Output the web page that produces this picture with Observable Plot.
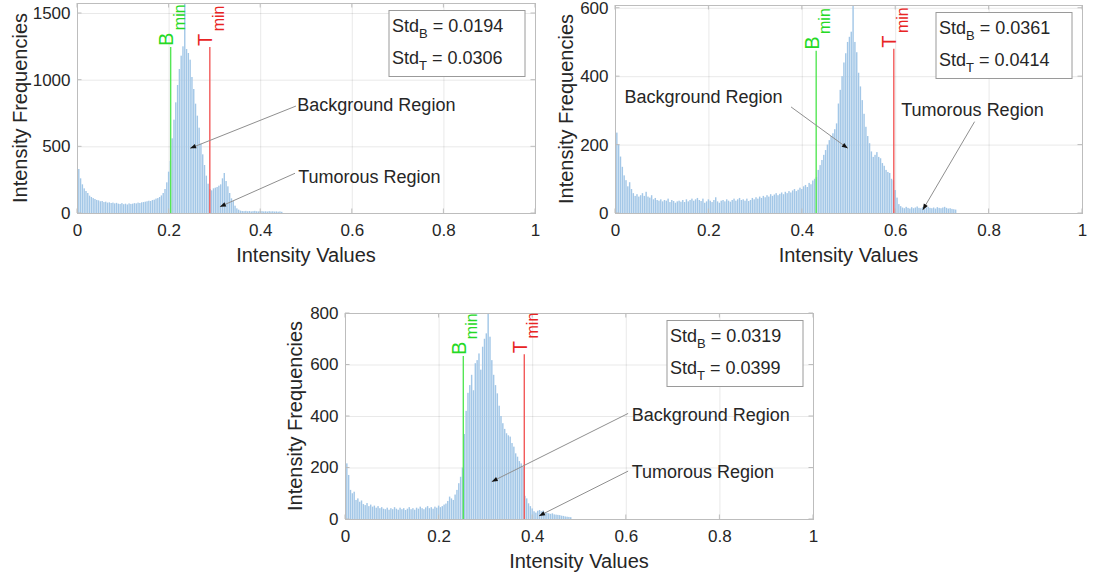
<!DOCTYPE html>
<html><head><meta charset="utf-8">
<script src="https://cdn.jsdelivr.net/npm/d3@7"></script>
<script src="https://cdn.jsdelivr.net/npm/@observablehq/plot@0.6"></script>
<style>
body{margin:0;background:#fff;}
#chart{position:relative;width:1093px;height:581px;overflow:hidden;background:#fff;}
#chart svg{position:absolute;}
</style></head><body><div id="chart"></div>
<script>
// ---------- data ----------
const binCount = 256; // imhist bins, centres at i/255
const xTicks = [0, 0.2, 0.4, 0.6, 0.8, 1];
const xTickLabels = ["0", "0.2", "0.4", "0.6", "0.8", "1"];
const xAxisTitle = "Intensity Values";
const yAxisTitle = "Intensity Frequencies";
const regionNames = ["Background Region", "Tumorous Region"];
const thresholdLetters = ["B", "T"];
const thresholdSub = "min";
const stdNames = ["B", "T"];

// panel 1 (top-left)
const counts1 = [390,330,260,215,185,165,150,130,120,112,
  105,98,95,88,90,82,85,78,80,75,
  78,72,76,70,68,74,66,70,64,72,
  68,70,74,72,78,75,80,82,85,88,
  92,90,97,100,108,112,120,132,150,180,
  230,310,390,560,700,830,960,1080,1180,1250,
  1600,1230,1200,1150,1020,930,820,730,640,520,
  440,360,280,220,180,170,185,190,195,205,
  215,260,300,240,200,150,110,90,55,35,25,
  18,15,14,16,13,15,12,14,16,13,12,15,14,12,13,11,14,12,13,11,12,10,12,9];
const yTicks1 = [0, 500, 1000, 1500];
const yMax1 = 1575;
const thresholds1 = [0.2045, 0.290];
const thresholdTops1 = [1245, 1245];
const std1 = ["0.0194", "0.0306"];

// panel 2 (top-right)
const counts2 = [367,235,200,165,135,110,96,78,90,70,
  58,50,55,48,52,58,50,62,48,45,
  52,40,44,38,36,40,34,38,36,42,
  32,38,35,30,34,36,33,38,32,40,
  34,38,42,36,40,44,38,35,42,30,
  34,40,36,32,38,46,34,30,36,38,
  34,40,36,33,38,42,36,40,44,38,
  40,36,42,35,38,44,40,46,42,48,
  44,50,46,52,48,55,50,54,58,52,
  56,60,55,62,58,64,60,66,70,64,
  68,74,70,78,82,76,88,84,95,100,
  105,126,140,155,170,184,200,213,225,233,
  245,262,320,360,400,440,467,500,515,530,
  640,500,470,410,370,330,290,252,225,204,
  180,164,170,178,164,160,146,138,126,120,
  117,100,96,67,45,26,20,
  16,14,18,15,13,17,14,16,19,15,14,17,13,16,18,15,14,16,13,17,15,14,16,18,15,13,14,12,11,10];
const yTicks2 = [0, 200, 400, 600];
const yMax2 = 608;
const thresholds2 = [0.4308, 0.597];
const thresholdTops2 = [474, 480];
const std2 = ["0.0361", "0.0414"];

// panel 3 (bottom)
const counts3 = [274,216,171,113,100,106,74,80,67,72,
  58,54,62,50,56,48,52,44,50,42,
  46,40,38,44,36,42,38,46,40,36,
  44,38,42,35,40,46,38,42,36,44,
  40,48,42,38,45,50,42,46,40,48,
  44,52,46,50,56,60,70,87,80,74,
  95,113,139,164,200,330,420,490,520,560,
  500,605,617,643,580,669,700,721,798,708,
  617,560,520,488,440,400,372,350,333,325,
  320,295,281,255,242,225,216,203,90,80,
  61,50,41,30,25,32,35,30,33,26,
  24,22,20,22,18,17,16,15,13,12,10,9,8,7];
const yTicks3 = [0, 200, 400, 600, 800];
const yMax3 = 800;
const thresholds3 = [0.2528, 0.3831];
const thresholdTops3 = [633, 640];
const std3 = ["0.0319", "0.0399"];

// ---------- styling / layout ----------
const FONT = '"Liberation Sans", Arial, Helvetica, sans-serif';
const INK = "#262626";
const BAR_FILL = "#a3c7e7";
const FRAME = "#bdbdbd";
const LINE_COLORS = ["#55e655", "#f25a5a"];
const TEXT_COLORS = ["#25d925", "#e82424"];

const panels = [
  {counts: counts1, yTicks: yTicks1, yMax: yMax1, thresholds: thresholds1, tops: thresholdTops1, std: std1,
   left: 0, top: 0, width: 545, height: 275, ml: 77, mr: 10, mt: 3, mb: 62, yLabelOffset: 57,
   notes: [{text: [0.481, 810], tail: [0.478, 802], head: [0.247, 485]},
           {text: [0.483, 272], tail: [0.476, 298], head: [0.312, 47]}]},
  {counts: counts2, yTicks: yTicks2, yMax: yMax2, thresholds: thresholds2, tops: thresholdTops2, std: std2,
   left: 545, top: 0, width: 548, height: 275, ml: 70, mr: 11, mt: 5, mb: 62, yLabelOffset: 49,
   notes: [{text: [0.0203, 340], tail: [0.377, 310], head: [0.4985, 189]},
           {text: [0.613, 301], tail: [0.77, 267], head: [0.659, 9]}]},
  {counts: counts3, yTicks: yTicks3, yMax: yMax3, thresholds: thresholds3, tops: thresholdTops3, std: std3,
   left: 270, top: 300, width: 563, height: 281, ml: 75, mr: 20, mt: 13, mb: 62, yLabelOffset: 50,
   notes: [{text: [0.6126, 404], tail: [0.605, 410], head: [0.3135, 145]},
           {text: [0.6126, 184], tail: [0.605, 186], head: [0.4145, 12]}]}
];

function overlay(P) {
  return (index, scales, values, dims) => {
    const X = scales.x, Y = scales.y;
    const x0 = dims.marginLeft, x1 = dims.width - dims.marginRight;
    const y0 = dims.marginTop, y1 = dims.height - dims.marginBottom;
    const g = d3.create("svg:g").attr("font-family", FONT).attr("text-anchor", "start");
    // inward ticks
    const tk = g.append("g").attr("stroke", FRAME).attr("stroke-width", 1);
    for (const t of P.yTicks) {
      const yy = Y(t);
      tk.append("line").attr("x1", x0).attr("x2", x0 + 4.5).attr("y1", yy).attr("y2", yy);
      tk.append("line").attr("x1", x1 - 4.5).attr("x2", x1).attr("y1", yy).attr("y2", yy);
    }
    for (const t of xTicks) {
      const xx = X(t);
      tk.append("line").attr("x1", xx).attr("x2", xx).attr("y1", y1).attr("y2", y1 - 4.5);
      tk.append("line").attr("x1", xx).attr("x2", xx).attr("y1", y0).attr("y2", y0 + 4.5);
    }
    // threshold lines and labels
    P.thresholds.forEach((v, k) => {
      const xx = X(v), yt = Y(P.tops[k]), yb = Y(0);
      g.append("line").attr("x1", xx).attr("x2", xx).attr("y1", yb).attr("y2", yt)
        .attr("stroke", LINE_COLORS[k]).attr("stroke-width", 1.4);
      const t = g.append("text").attr("transform", `translate(${xx + 2.5},${yt - 1}) rotate(-90)`)
        .attr("text-anchor", "start").attr("fill", TEXT_COLORS[k]);
      t.append("tspan").attr("font-size", 20).text(thresholdLetters[k]);
      t.append("tspan").attr("font-size", 16).attr("dx", 2.5).attr("dy", 11.5).text(thresholdSub);
    });
    // std box
    const bw = 136, bh = 66, bxr = x1 - 10, byt = y0 + 7.5;
    g.append("rect").attr("x", bxr - bw).attr("y", byt).attr("width", bw).attr("height", bh)
      .attr("fill", "white").attr("stroke", "#9a9a9a").attr("stroke-width", 1);
    stdNames.forEach((s, k) => {
      const t = g.append("text").attr("x", bxr - bw + 3).attr("y", byt + 21.5 + 31.5 * k)
        .attr("text-anchor", "start").attr("font-size", 18).attr("fill", INK);
      t.append("tspan").text("Std");
      t.append("tspan").attr("font-size", 13).attr("dy", 6).text(s);
      t.append("tspan").attr("dy", -6).text(" = " + P.std[k]);
    });
    // annotations
    P.notes.forEach((n, k) => {
      const tx = X(n.tail[0]), ty = Y(n.tail[1]), hx = X(n.head[0]), hy = Y(n.head[1]);
      g.append("line").attr("x1", tx).attr("y1", ty).attr("x2", hx).attr("y2", hy)
        .attr("stroke", "#8f8f8f").attr("stroke-width", 1);
      const a = Math.atan2(hy - ty, hx - tx), L = 6, W = 2.3;
      const bx = hx - L * Math.cos(a), by = hy - L * Math.sin(a);
      const pts = [[hx, hy], [bx + W * Math.sin(a), by - W * Math.cos(a)], [bx - W * Math.sin(a), by + W * Math.cos(a)]];
      g.append("polygon").attr("points", pts.map(p => p.join(",")).join(" ")).attr("fill", "#111");
      g.append("text").attr("x", X(n.text[0])).attr("y", Y(n.text[1])).attr("dy", "0.35em")
        .attr("text-anchor", "start").attr("font-size", 18).attr("fill", INK).text(regionNames[k]);
    });
    // axis titles
    g.append("text").attr("x", (x0 + x1) / 2).attr("y", y1 + 42).attr("dy", "0.35em")
      .attr("text-anchor", "middle").attr("font-size", 20).attr("fill", INK).text(xAxisTitle);
    g.append("text").attr("transform", `translate(${x0 - P.yLabelOffset},${(y0 + y1) / 2}) rotate(-90)`)
      .attr("dy", "0.35em").attr("text-anchor", "middle").attr("font-size", 20).attr("fill", INK).text(yAxisTitle);
    return g.node();
  };
}

const root = document.getElementById("chart");
for (const P of panels) {
  const bars = P.counts.map((c, i) => ({x1: (i - 0.5) / (binCount - 1), x2: (i + 0.5) / (binCount - 1), y: c}));
  const svg = Plot.plot({
    width: P.width, height: P.height,
    marginLeft: P.ml, marginRight: P.mr, marginTop: P.mt, marginBottom: P.mb,
    style: {fontFamily: FONT, fontSize: "17px", color: INK, background: "transparent", overflow: "visible"},
    x: {domain: [0, 1], ticks: xTicks, tickFormat: d => xTickLabels[xTicks.indexOf(d)], tickSize: 0, tickPadding: 10, label: null, grid: true},
    y: {domain: [0, P.yMax], ticks: P.yTicks, tickFormat: d => String(d), tickSize: 0, tickPadding: 7, label: null, grid: true},
    marks: [
      Plot.rectY(bars, {x1: "x1", x2: "x2", y: "y", fill: BAR_FILL, insetLeft: 0.2, insetRight: 0.2, clip: true}),
      Plot.frame({stroke: FRAME}),
      overlay(P)
    ]
  });
  svg.style.left = P.left + "px";
  svg.style.top = P.top + "px";
  root.appendChild(svg);
}
</script></body></html>
